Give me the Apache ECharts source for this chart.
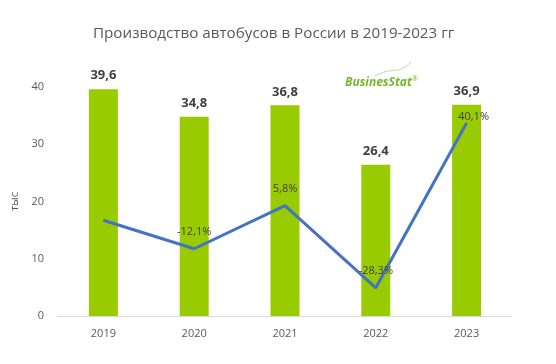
<!DOCTYPE html>
<html><head><meta charset="utf-8">
<script src="https://cdn.jsdelivr.net/npm/echarts@6/dist/echarts.min.js"></script>
<style>html,body{margin:0;padding:0;background:#fff}#c{width:556px;height:364px}</style>
</head><body><div id="c"></div>
<script>
const categories = ['2019','2020','2021','2022','2023'];
const production = [39.6, 34.8, 36.8, 26.4, 36.9];
const growth = [-0.3, -12.1, 5.8, -28.3, 40.1];
const growthLabelShown = [false, true, true, true, true];
const yTicks = [0, 10, 20, 30, 40];

const fmt = v => String(v.toFixed(1)).replace('.', ',');
const chart = echarts.init(document.getElementById('c'));
chart.setOption({
  animation: false,
  backgroundColor: '#fff',
  title: {
    text: 'Производство автобусов в России в 2019-2023 гг',
    left: 88, top: 21,
    textStyle: {fontFamily: 'Open Sans', fontSize: 15.2, fontWeight: 'normal', color: '#595959'}
  },
  grid: {left: 58, right: 44, top: 87, bottom: 48},
  xAxis: {
    type: 'category', data: categories,
    axisLine: {lineStyle: {color: '#d9d9d9', width: 1}},
    axisTick: {show: false},
    axisLabel: {color: '#595959', fontFamily: 'Open Sans', fontSize: 11, margin: 12}
  },
  yAxis: [{
    type: 'value', min: yTicks[0], max: yTicks[yTicks.length-1], interval: 10,
    name: 'тыс', nameLocation: 'middle', nameGap: 36, nameRotate: 90,
    nameTextStyle: {color: '#595959', fontFamily: 'Open Sans', fontSize: 11},
    splitLine: {show: false}, axisLine: {show: false}, axisTick: {show: false},
    axisLabel: {color: '#595959', fontFamily: 'Open Sans', fontSize: 11, margin: 14}
  }, {
    type: 'value', min: -40, max: 55, show: false, splitLine: {show: false}
  }],
  series: [{
    type: 'bar', data: production, barWidth: 29,
    itemStyle: {color: '#99cc00'},
    label: {show: true, position: 'top', distance: 7, formatter: p => fmt(p.value),
      fontFamily: 'Open Sans', fontSize: 13, fontWeight: 'bold', color: '#404040'}
  }, {
    type: 'line', yAxisIndex: 1,
    data: growth.map((v, i) => ({
      value: v,
      label: {show: growthLabelShown[i], offset: i === 4 ? [7, 10] : [0, 0]}
    })),
    symbol: 'circle', symbolSize: 2, showSymbol: true,
    itemStyle: {color: 'rgba(68,114,196,0)'},
    lineStyle: {color: '#4472c4', width: 3},
    label: {show: true, position: 'top', distance: 10, formatter: p => fmt(p.value) + '%',
      fontFamily: 'Open Sans', fontSize: 11, color: '#404040'}
  }],
  graphic: [{
    type: 'text', left: 345, top: 77,
    style: {text: 'BusinesStat', fill: '#77b82a', font: 'italic bold 12px "Open Sans"'}
  }, {
    type: 'text', left: 412, top: 75,
    style: {text: '®', fill: '#77b82a', font: '7px "Open Sans"'}
  }, {
    type: 'bezierCurve',
    shape: {x1: 375, y1: 76, x2: 411, y2: 62, cpx1: 392, cpy1: 66, cpx2: 398, cpy2: 76},
    style: {stroke: '#a9d18e', lineWidth: 0.8, fill: 'none'}
  }]
});
</script></body></html>
